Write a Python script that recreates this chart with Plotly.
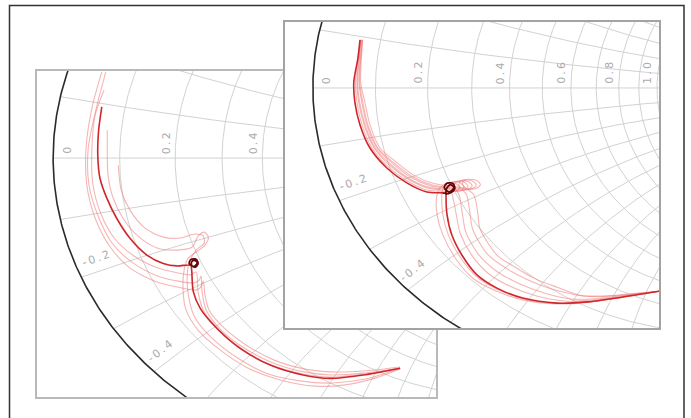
import numpy as np
import plotly.graph_objects as go

# ---------------- data (reflection coefficient, real / imaginary) ----------------
R_LABELS = [0.0, 0.2, 0.4, 0.6, 0.8, 1.0]
X_LABELS = [-0.2, -0.4]
R_GRID = [0.1, 0.2, 0.3, 0.4, 0.5, 0.6, 0.7, 0.8, 0.9, 1.0]
X_GRID = [0.1, 0.2, 0.3, 0.4, 0.5, 0.6, 0.7, 0.8, 0.9, 1.0,
          -0.1, -0.2, -0.3, -0.4, -0.5, -0.6, -0.7, -0.8, -0.9, -1.0]

# left chart
left_main_re = [-0.867, -0.876, -0.878, -0.872, -0.853, -0.826, -0.790, -0.744, -0.699, -0.662, -0.626,
                -0.612, -0.604, -0.610, -0.624, -0.628, -0.616, -0.606, -0.614, -0.622,
                -0.621, -0.617, -0.598, -0.553, -0.489, -0.407, -0.317, -0.243, -0.153, -0.052]
left_main_im = [0.165, 0.085, 0.010, -0.065, -0.130, -0.195, -0.259, -0.313, -0.340, -0.348, -0.345,
                -0.352, -0.340, -0.326, -0.328, -0.340, -0.350, -0.338, -0.330, -0.336,
                -0.367, -0.431, -0.485, -0.549, -0.614, -0.668, -0.700, -0.711, -0.700, -0.678]
left_loop_re = [-0.626, -0.612, -0.604, -0.610, -0.624, -0.628, -0.616, -0.606, -0.614, -0.622, -0.621]
left_loop_im = [-0.345, -0.352, -0.340, -0.326, -0.328, -0.340, -0.350, -0.338, -0.330, -0.336, -0.345]

left_pink_re = [
    [-0.867, -0.894, -0.910, -0.908, -0.885, -0.844, -0.790, -0.716, -0.661, -0.612, -0.598, -0.590,
     -0.585, -0.574, -0.533, -0.473, -0.396, -0.311, -0.238, -0.153, -0.052],
    [-0.856, -0.882, -0.904, -0.902, -0.877, -0.839, -0.781, -0.713, -0.658, -0.617, -0.601, -0.596,
     -0.593, -0.582, -0.541, -0.478, -0.399, -0.314, -0.240, -0.153, -0.052],
    [-0.861, -0.885, -0.894, -0.891, -0.869, -0.833, -0.779, -0.713, -0.658, -0.626, -0.609,
     -0.604, -0.590, -0.546, -0.484, -0.404, -0.317, -0.243, -0.153, -0.052],
    [-0.852, -0.852, -0.850, -0.836, -0.809, -0.768, -0.716, -0.664, -0.620, -0.604, -0.587, -0.576,
     -0.585, -0.609, -0.631, -0.642, -0.645, -0.637, -0.604, -0.544, -0.467, -0.380, -0.284, -0.202,
     -0.120, -0.052],
    [-0.822, -0.814, -0.790, -0.749, -0.699, -0.653, -0.612, -0.590, -0.587, -0.609, -0.628, -0.634,
     -0.628, -0.612, -0.566, -0.500, -0.418, -0.325, -0.238, -0.148, -0.052],
]
left_pink_im = [
    [0.278, 0.161, 0.032, -0.087, -0.194, -0.287, -0.355, -0.400, -0.416, -0.426, -0.419, -0.397,
     -0.442, -0.490, -0.548, -0.603, -0.652, -0.681, -0.690, -0.687, -0.674],
    [0.278, 0.161, 0.032, -0.087, -0.187, -0.274, -0.339, -0.381, -0.397, -0.403, -0.394, -0.381,
     -0.432, -0.490, -0.555, -0.613, -0.661, -0.690, -0.700, -0.694, -0.678],
    [0.219, 0.139, 0.032, -0.087, -0.181, -0.258, -0.316, -0.355, -0.371, -0.377, -0.368,
     -0.432, -0.490, -0.555, -0.616, -0.668, -0.697, -0.707, -0.697, -0.678],
    [0.090, 0.032, -0.055, -0.129, -0.194, -0.252, -0.290, -0.297, -0.287, -0.252, -0.239, -0.255,
     -0.281, -0.303, -0.323, -0.361, -0.426, -0.490, -0.555, -0.619, -0.678, -0.716, -0.736, -0.732,
     -0.710, -0.681],
    [-0.023, -0.103, -0.168, -0.226, -0.255, -0.258, -0.245, -0.252, -0.274, -0.297, -0.336, -0.394,
     -0.458, -0.516, -0.581, -0.642, -0.694, -0.719, -0.726, -0.713, -0.678],
]

# right chart
right_main_re = [-0.863, -0.869, -0.881, -0.878, -0.863, -0.834, -0.785, -0.727, -0.669, -0.622,
                 -0.605, -0.588, -0.592, -0.610, -0.618, -0.604, -0.590, -0.600, -0.612,
                 -0.613, -0.610, -0.596, -0.567, -0.523, -0.465, -0.390, -0.291, -0.203, -0.099, 0.009]
right_main_im = [0.164, 0.102, 0.020, -0.048, -0.126, -0.205, -0.273, -0.324, -0.355, -0.358,
                 -0.360, -0.345, -0.327, -0.325, -0.340, -0.355, -0.340, -0.330, -0.345,
                 -0.365, -0.433, -0.502, -0.570, -0.638, -0.683, -0.717, -0.734, -0.730, -0.713, -0.693]
right_loop_re = [-0.622, -0.605, -0.588, -0.592, -0.610, -0.618, -0.604, -0.590, -0.600, -0.612, -0.613]
right_loop_im = [-0.358, -0.360, -0.345, -0.327, -0.325, -0.340, -0.355, -0.340, -0.330, -0.345, -0.365]

right_pink_re = [
    [-0.861, -0.876, -0.872, -0.857, -0.828, -0.780, -0.723, -0.666, -0.625, -0.585, -0.573, -0.585, -0.610,
     -0.630, -0.640, -0.639, -0.622, -0.582, -0.532, -0.467, -0.391, -0.291, -0.203, -0.099, 0.009],
    [-0.860, -0.872, -0.867, -0.851, -0.822, -0.775, -0.719, -0.662, -0.620, -0.575, -0.561, -0.573, -0.600,
     -0.620, -0.625, -0.622, -0.606, -0.573, -0.526, -0.466, -0.390, -0.291, -0.203, -0.099, 0.009],
    [-0.859, -0.870, -0.864, -0.848, -0.819, -0.772, -0.716, -0.659, -0.612, -0.565, -0.549, -0.561, -0.590,
     -0.605, -0.595, -0.583, -0.572, -0.540, -0.490, -0.430, -0.350, -0.270, -0.190, -0.099, 0.009],
    [-0.857, -0.866, -0.858, -0.843, -0.814, -0.768, -0.712, -0.655, -0.605, -0.553, -0.537, -0.549, -0.580,
     -0.590, -0.575, -0.565, -0.556, -0.520, -0.465, -0.400, -0.320, -0.250, -0.180, -0.099, 0.009],
    [-0.856, -0.864, -0.855, -0.840, -0.811, -0.765, -0.709, -0.652, -0.598, -0.541, -0.525, -0.537, -0.570,
     -0.575, -0.553, -0.543, -0.535, -0.492, -0.420, -0.340, -0.270, -0.215, -0.160, -0.099, 0.009],
    [-0.855, -0.861, -0.849, -0.834, -0.805, -0.760, -0.704, -0.648, -0.590, -0.529, -0.513, -0.525, -0.560,
     -0.565, -0.532, -0.520, -0.515, -0.465, -0.400, -0.360, -0.290, -0.224, -0.160, -0.099, 0.009],
]
right_pink_im = [
    [0.164, 0.020, -0.048, -0.126, -0.205, -0.270, -0.319, -0.349, -0.352, -0.352, -0.340, -0.326, -0.325,
     -0.340, -0.370, -0.433, -0.502, -0.587, -0.652, -0.693, -0.723, -0.737, -0.732, -0.714, -0.693],
    [0.164, 0.020, -0.048, -0.126, -0.205, -0.266, -0.314, -0.343, -0.348, -0.352, -0.338, -0.323, -0.322,
     -0.338, -0.365, -0.433, -0.502, -0.575, -0.642, -0.686, -0.719, -0.735, -0.731, -0.713, -0.693],
    [0.164, 0.020, -0.048, -0.126, -0.205, -0.263, -0.312, -0.340, -0.345, -0.350, -0.336, -0.321, -0.320,
     -0.335, -0.365, -0.433, -0.495, -0.568, -0.633, -0.675, -0.710, -0.727, -0.724, -0.711, -0.693],
    [0.164, 0.020, -0.048, -0.126, -0.205, -0.258, -0.307, -0.335, -0.342, -0.348, -0.334, -0.319, -0.318,
     -0.333, -0.365, -0.433, -0.490, -0.566, -0.626, -0.668, -0.702, -0.720, -0.719, -0.709, -0.693],
    [0.164, 0.020, -0.048, -0.126, -0.205, -0.255, -0.304, -0.331, -0.339, -0.346, -0.332, -0.317, -0.316,
     -0.333, -0.365, -0.433, -0.484, -0.568, -0.628, -0.672, -0.697, -0.710, -0.712, -0.707, -0.693],
    [0.164, 0.020, -0.048, -0.126, -0.205, -0.251, -0.300, -0.326, -0.336, -0.344, -0.330, -0.315, -0.314,
     -0.330, -0.365, -0.433, -0.478, -0.570, -0.620, -0.648, -0.680, -0.707, -0.710, -0.705, -0.693],
]

# ---------------- styling ----------------
W, H = 691, 418
GRID = "#d2d2d2"
RIM = "#2a2a2a"
PINK = "rgba(238,120,120,0.55)"
MAIN = "#d0262a"
LOOP = "#5a0c0c"
LABEL = "#ababab"


def gam(z):
    return (z - 1) / (z + 1)


def grid_xy():
    xs, ys = [], []
    t = np.tan(np.linspace(-1.5605, 1.5605, 700))
    for r in R_GRID:
        g = gam(r + 1j * t)
        xs += list(g.real) + [None]
        ys += list(g.imag) + [None]
    s = np.tan(np.linspace(0.0, 1.56, 400))
    for x in X_GRID:
        g = gam(s + 1j * x)
        xs += list(g.real) + [None]
        ys += list(g.imag) + [None]
    xs += [-1.0, 1.0, None]
    ys += [0.0, 0.0, None]
    return xs, ys


def rim_xy():
    a = np.linspace(0, 2 * np.pi, 720)
    return list(np.cos(a)), list(np.sin(a))


fig = go.Figure()


def add_panel(xa, ya, main_re, main_im, loop_re, loop_im, pinks_re, pinks_im):
    gx, gy = grid_xy()
    fig.add_trace(go.Scatter(x=gx, y=gy, mode="lines", line=dict(color=GRID, width=1),
                             xaxis=xa, yaxis=ya, hoverinfo="skip"))
    cx, cy = rim_xy()
    fig.add_trace(go.Scatter(x=cx, y=cy, mode="lines", line=dict(color=RIM, width=1.6),
                             xaxis=xa, yaxis=ya, hoverinfo="skip"))
    for pr, pi in zip(pinks_re, pinks_im):
        fig.add_trace(go.Scatter(x=pr, y=pi, mode="lines",
                                 line=dict(color=PINK, width=1.1, shape="spline", smoothing=0.8),
                                 xaxis=xa, yaxis=ya))
    fig.add_trace(go.Scatter(x=main_re, y=main_im, mode="lines",
                             line=dict(color=MAIN, width=1.6, shape="spline", smoothing=0.8),
                             xaxis=xa, yaxis=ya))
    fig.add_trace(go.Scatter(x=loop_re, y=loop_im, mode="lines",
                             line=dict(color=LOOP, width=1.5, shape="spline", smoothing=1.0),
                             xaxis=xa, yaxis=ya))


add_panel("x", "y", left_main_re, left_main_im, left_loop_re, left_loop_im, left_pink_re, left_pink_im)
add_panel("x2", "y2", right_main_re, right_main_im, right_loop_re, right_loop_im, right_pink_re, right_pink_im)


def ax(domain, rng, color, anchor):
    return dict(domain=domain, range=rng, showgrid=False, zeroline=False, showticklabels=False,
                ticks="", showline=True, mirror=True, linecolor=color, linewidth=2,
                anchor=anchor, fixedrange=True)


annotations = []


def labels(xref, yref, r_list, x_list):
    for r in r_list:
        g = (r - 1) / (r + 1)
        txt = "0" if r == 0 else "%.1f" % r
        txt = txt.replace(".", "\u2009.\u2009")
        annotations.append(dict(x=g, y=0, xref=xref, yref=yref, text=txt, showarrow=False,
                                textangle=-90, xanchor="center", yanchor="bottom",
                                xshift=14 if r == 0 else -9, yshift=2,
                                font=dict(family="DejaVu Sans", size=11, color=LABEL)))
    for xv, ang, dx, dy in x_list:
        g = gam(0.03 + 1j * xv)
        txt = ("-%.1f" % abs(xv)).replace(".", "\u2009.\u2009").replace("-", "-\u2009")
        annotations.append(dict(x=g.real, y=g.imag, xref=xref, yref=yref, text=txt, showarrow=False,
                                textangle=ang, xanchor="center", yanchor="middle",
                                xshift=dx, yshift=dy,
                                font=dict(family="DejaVu Sans", size=11, color=LABEL)))


labels("x", "y", R_LABELS[:3], [(X_LABELS[0], -19, -4, 12), (X_LABELS[1], -38, -8, 10)])
labels("x2", "y2", R_LABELS, [(X_LABELS[0], -19, -4, 12), (X_LABELS[1], -38, -8, 10)])

fig.update_layout(
    width=W, height=H, margin=dict(l=0, r=0, t=0, b=0),
    paper_bgcolor="white", plot_bgcolor="white", showlegend=False,
    xaxis=ax([37 / W, 436 / W], [-1.044, 0.046], "#b9b9b9", "y"),
    yaxis=ax([1 - 397 / H, 1 - 71 / H], [-0.771, 0.281], "#b9b9b9", "x"),
    xaxis2=ax([285 / W, 659 / W], [-1.081, 0.006], "#a3a3a3", "y2"),
    yaxis2=ax([1 - 328 / H, 1 - 22 / H], [-0.819, 0.225], "#a3a3a3", "x2"),
    annotations=annotations,
    shapes=[dict(type="rect", xref="paper", yref="paper", x0=9.5 / W, x1=684 / W,
                 y0=-0.05, y1=1 - 5.5 / H, line=dict(color="#333333", width=1.5))],
)

fig.write_html("out.html", config={"displayModeBar": False},
               post_script="document.body.style.margin='0';document.body.style.overflow='hidden';")
